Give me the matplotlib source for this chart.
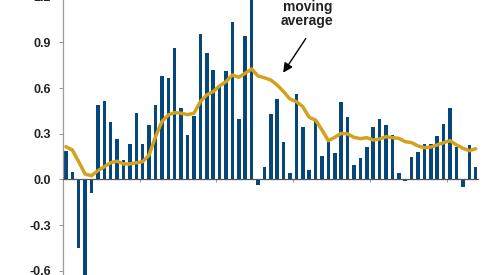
import matplotlib
matplotlib.use("Agg")
import matplotlib.pyplot as plt
import numpy as np

plt.rcParams['font.family'] = ['Liberation Sans', 'DejaVu Sans']

# monthly values (bars)
bar_values = [0.19, 0.05, -0.45, -0.70, -0.09, 0.487, 0.517, 0.375, 0.264, 0.126,
              0.233, 0.437, 0.233, 0.356, 0.487, 0.68, 0.668, 0.861, 0.467, 0.294,
              0.42, 0.953, 0.83, 0.719, 0.61, 0.71, 1.032, 0.397, 0.942, 1.30,
              -0.038, 0.084, 0.428, 0.528, 0.244, 0.043, 0.558, 0.347, 0.062, 0.397,
              0.154, 0.244, 0.174, 0.507, 0.408, 0.095, 0.143, 0.215, 0.347, 0.397,
              0.356, 0.294, 0.043, -0.01, 0.146, 0.183, 0.233, 0.233, 0.286, 0.366,
              0.467, 0.215, -0.051, 0.224, 0.084]

# moving average line
ma_values = [0.215, 0.194, 0.117, 0.036, 0.025, 0.058, 0.084, 0.110, 0.120, 0.102,
             0.102, 0.110, 0.117, 0.161, 0.281, 0.380, 0.424, 0.439, 0.435, 0.426,
             0.435, 0.511, 0.555, 0.577, 0.614, 0.642, 0.686, 0.671, 0.697, 0.726,
             0.680, 0.668, 0.653, 0.620, 0.577, 0.528, 0.511, 0.478, 0.408, 0.390,
             0.325, 0.255, 0.277, 0.303, 0.299, 0.277, 0.268, 0.275, 0.259, 0.266,
             0.281, 0.275, 0.270, 0.248, 0.242, 0.220, 0.209, 0.213, 0.227, 0.242,
             0.255, 0.227, 0.205, 0.189, 0.202]

y_ticks = [-0.6, -0.3, 0.0, 0.3, 0.6, 0.9, 1.2]
y_tick_labels = ["-0.6", "-0.3", "0.0", "0.3", "0.6", "0.9", "1.2"]
year_boundaries = [11.5, 23.5, 35.5, 47.5, 59.5]

x = np.arange(len(bar_values))

fig = plt.figure(figsize=(4.87, 2.75), dpi=100)
ax = fig.add_axes([0.13, -0.0127, 0.852, 1.0524])

bar_color = '#06467a'
ma_color = '#d4a11e'
axis_color = '#9a9a9a'

ax.bar(x, bar_values, width=0.55, color=bar_color, zorder=2)
ax.plot(x, ma_values, color=ma_color, lw=2.5, zorder=3, solid_capstyle='round')

ax.set_xlim(-0.4, 64.4)
ax.set_ylim(-0.65, 1.25)

for s in ['top', 'right']:
    ax.spines[s].set_visible(False)
ax.spines['left'].set_color(axis_color)
ax.spines['left'].set_linewidth(0.9)
ax.spines['bottom'].set_position(('data', 0))
ax.spines['bottom'].set_color('#555555')
ax.spines['bottom'].set_linewidth(0.9)
ax.spines['bottom'].set_zorder(4)

ax.set_yticks(y_ticks)
ax.set_yticklabels(y_tick_labels, fontsize=9, fontweight='bold', color='#222222')
ax.tick_params(axis='y', direction='out', length=3, width=0.8, color=axis_color, pad=6)

ax.set_xticks(year_boundaries)
ax.set_xticklabels([])
ax.tick_params(axis='x', direction='out', length=2.5, width=0.8, color=axis_color)

ax.text(37.7, 1.085, "moving\naverage", ha='center', va='center', fontsize=10,
        fontweight='bold', color='#222222', linespacing=0.95)
ax.annotate('', xy=(33.7, 0.686), xytext=(37.7, 0.94),
            arrowprops=dict(arrowstyle='-|>', color='black', lw=1.0, mutation_scale=14))

fig.savefig('out.png', dpi=100)
